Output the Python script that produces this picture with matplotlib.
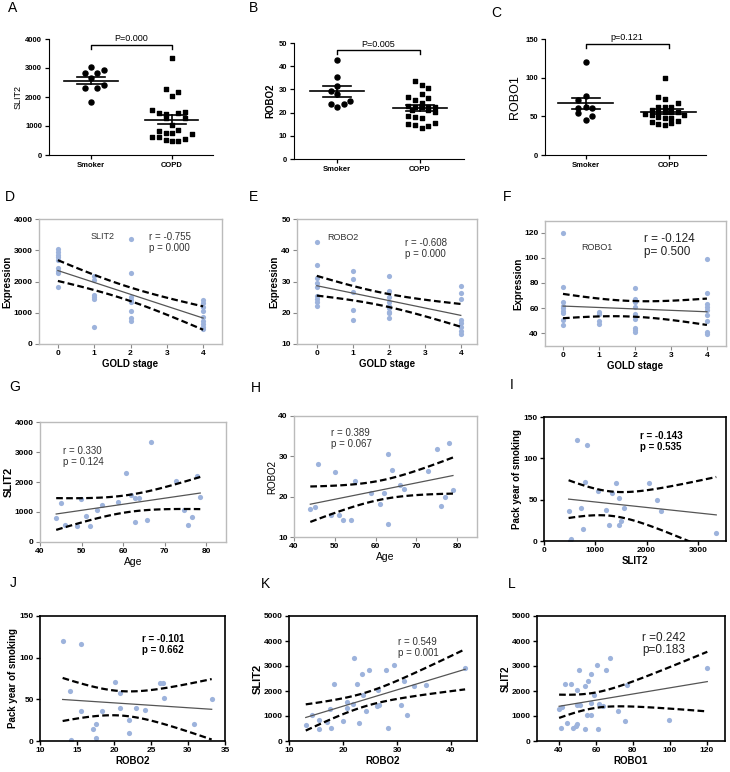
import numpy as np
import matplotlib
matplotlib.use('Agg')
import matplotlib.pyplot as plt

plt.rcParams['font.family'] = ['Liberation Sans', 'DejaVu Sans']

W, H = 730, 772
DOT = '#9db3dc'

# ---- group comparisons (A-C); dx = horizontal spread of each point in the column ----
slit2_smoker = [3023, 2830, 2828, 2931, 2667, 2299, 2299, 2414, 1816]
slit2_smoker_dx = [0, -0.08, 0.07, 0.16, 0, -0.08, 0.07, 0.16, 0]
slit2_copd = [3333, 2264, 2184, 2034, 1552, 1460, 1402, 1460, 1494, 1264, 1264, 1034,
              828, 862, 747, 747, 632, 724, 517, 494, 494, 540, 632]
slit2_copd_dx = [0, -0.07, 0.08, 0, -0.24, -0.16, -0.07, 0.08, 0.16, -0.07, 0.16, 0,
                 -0.16, 0.08, -0.07, 0, -0.16, 0.25, -0.07, 0, 0.08, 0.16, -0.24]
robo2_smoker = [42.6, 35.5, 31.4, 29.4, 28.0, 25.0, 23.9, 23.6, 22.5]
robo2_smoker_dx = [0, 0, 0, -0.07, 0, 0.16, -0.07, 0.08, 0]
robo2_copd = [33.5, 31.8, 30.8, 28.2, 26.8, 26.5, 25.4, 24.2, 22.8, 22.5, 22.2, 22.2, 22.2,
              21.1, 21.0, 20.3, 18.5, 17.9, 17.5, 15.3, 15.6, 14.5, 14.2, 13.2]
robo2_copd_dx = [-0.06, 0.02, 0.10, 0.02, -0.14, 0.10, -0.06, 0.02, -0.14, -0.06, 0.02,
                 0.10, 0.18, -0.10, 0.10, 0.18, -0.14, -0.06, 0.02, -0.14, 0.18, -0.06,
                 0.10, 0.02]
robo1_smoker = [120, 76.7, 71, 60.3, 61.6, 60.3, 53.9, 50.4, 45.3]
robo1_smoker_dx = [0, 0, -0.09, -0.09, 0, 0.08, -0.09, 0.08, 0]
robo1_copd = [99, 75.4, 72, 66.8, 62.5, 62.5, 62.5, 58, 56, 56, 56, 56, 53, 51.7, 51.7,
              48.7, 47.4, 47.4, 44.4, 43, 40, 38.8, 40.9]
robo1_copd_dx = [-0.05, -0.13, -0.05, 0.11, -0.13, -0.05, 0.03, -0.2, -0.13, -0.05, 0.03,
                 0.11, -0.28, -0.2, 0.19, -0.13, 0.03, -0.05, 0.11, -0.2, -0.13, -0.05,
                 0.03]

# ---- GOLD stage (D-F) ----
gold_slit2 = [0]*9 + [1]*6 + [2]*8 + [4]*9
val_slit2 = [3040, 2950, 2860, 2790, 2690, 2420, 2350, 2260, 1810,
             2180, 2050, 1570, 1490, 1440, 530,
             3350, 2280, 1520, 1410, 1330, 1060, 820, 750,
             1410, 1300, 1200, 1060, 850, 750, 640, 530, 470]
gold_robo2 = [0]*9 + [1]*5 + [2]*9 + [4]*8
val_robo2 = [42.7, 35.4, 31.2, 29.4, 28.1, 25.4, 24.3, 23.5, 22.2,
             33.4, 30.8, 26.5, 20.9, 17.7,
             31.8, 27.1, 25.0, 23.3, 22.3, 21.5, 20.4, 19.9, 18.3,
             28.6, 26.3, 24.3, 17.7, 16.8, 15.5, 14.2, 13.2]
gold_robo1 = [0]*9 + [1]*4 + [2]*9 + [4]*9
val_robo1 = [120, 76.6, 65.2, 62, 59.9, 57.7, 55.9, 50.6, 46.1,
             57.2, 55.1, 50.0, 47.4,
             75.8, 67.4, 65.2, 60.7, 55.4, 51.4, 44.0, 42.1, 40.5,
             98.8, 71.8, 63.3, 60.7, 58.5, 54.6, 49.3, 40.5, 39.5]

# ---- age (G, H) ----
age_g = [43.9, 45, 46, 49, 49.9, 51, 52, 53.8, 55, 58.8, 60.8, 61.9, 62.9, 63.8, 62.8,
         65.8, 66.7, 72.8, 74.6, 75.7, 76.7, 77.7, 78.6]
slit2_g = [795, 1293, 575, 519, 1436, 873, 519, 1072, 1227, 1337, 2287, 1580, 1481, 1481,
           663, 740, 3348, 2044, 1072, 552, 829, 2199, 1514]
age_h = [44, 45.1, 46, 50, 51, 49, 52, 54, 55, 59, 61, 62, 63, 63, 64, 66, 67, 73, 75,
         76, 77, 78, 79]
robo2_h = [17.05, 17.5, 28.2, 26.1, 15.5, 15.4, 14.1, 14.1, 24.0, 20.8, 18.3, 20.8, 30.7,
           13.1, 26.7, 22.8, 22.0, 26.4, 31.7, 17.6, 19.9, 33.2, 21.7]

# ---- pack years (I, J) ----
slit2_i = [480, 510, 530, 640, 724, 848, 802, 770, 1050, 1324, 1207, 1272, 1409, 1455,
           1455, 1507, 1566, 2042, 2198, 2277, 3360]
pack_i = [35.9, 0.5, 2.8, 121.8, 40, 116, 71, 15, 60, 58, 37, 19.4, 70.2, 52, 19.4, 24,
          40, 70, 50, 36, 10]
robo2_j = [13.06, 15.5, 14.1, 14.2, 15.5, 17.1, 17.6, 17.6, 18.4, 20.1, 20.8, 20.8, 21.96,
           22.05, 23.0, 24.2, 26.2, 26.6, 26.8, 30.8, 33.2]
pack_j = [120, 116, 60, 0.8, 36, 14.8, 20, 3.2, 36, 70.8, 58, 40, 24.8, 10, 40, 37.2, 70,
          70, 52, 20, 50]

# ---- SLIT2 vs receptors (K, L) ----
robo2_k = [13.1, 14.2, 15.6, 15.6, 17.1, 17.6, 17.7, 18.4, 20.0, 20.8, 20.8, 21.9, 22.0,
           22.5, 23.0, 23.5, 23.7, 24.2, 24.9, 26.3, 26.5, 26.7, 27.9, 28.3, 29.4, 30.8,
           31.2, 31.8, 33.2, 35.4, 42.6]
slit2_k = [627, 1053, 853, 480, 760, 1267, 533, 2267, 800, 1560, 1320, 1493, 3333, 2293,
           720, 2693, 1827, 1200, 2853, 1400, 2027, 1453, 2827, 533, 3027, 1453, 2400,
           1027, 2187, 2253, 2907]
robo1_l = [40, 41.3, 41.1, 43, 44.4, 46.2, 47.8, 49.1, 49.5, 49.6, 49.8, 50.9, 51.5, 54,
           54.2, 54.9, 55.8, 57.1, 57.3, 57.3, 59.1, 60.7, 61.3, 61.5, 63.6, 65.5, 67.6,
           72.2, 76, 77.1, 99.5, 120.4]
slit2_l = [1293, 1360, 533, 2267, 720, 2293, 533, 587, 2053, 1453, 693, 2853, 1453, 2187,
           493, 1040, 2400, 1040, 1520, 2667, 1827, 3027, 480, 1493, 1387, 2827, 3333,
           1200, 800, 2227, 853, 2907]


def rect(l, t, r, b):
    return [l / W, 1 - b / H, (r - l) / W, (b - t) / H]


def fit_lines(ax, x, y, t=2.04):
    x = np.asarray(x, float)
    y = np.asarray(y, float)
    slope, icpt = np.polyfit(x, y, 1)
    n = len(x)
    res = y - (icpt + slope * x)
    s = np.sqrt((res ** 2).sum() / (n - 2))
    xs = np.linspace(x.min(), x.max(), 100)
    ys = icpt + slope * xs
    se = s * np.sqrt(1.0 / n + (xs - x.mean()) ** 2 / ((x - x.mean()) ** 2).sum())
    ax.plot(xs, ys, color='#555555', lw=0.9, zorder=3)
    ax.plot(xs, ys + t * se, color='k', lw=1.6, ls=(0, (3, 1.5)), zorder=3)
    ax.plot(xs, ys - t * se, color='k', lw=1.6, ls=(0, (3, 1.5)), zorder=3)


def style_gray(ax):
    for sp in ax.spines.values():
        sp.set_color('#bbbbbb')
        sp.set_linewidth(1.0)
    ax.tick_params(direction='out', length=3, width=0.8, color='#888888',
                   labelsize=6, pad=1.5)
    for lab in ax.get_xticklabels() + ax.get_yticklabels():
        lab.set_fontweight('bold')


def style_black(ax):
    for sp in ax.spines.values():
        sp.set_color('k')
        sp.set_linewidth(1.2)
    ax.tick_params(direction='out', length=3, width=1.0, labelsize=6, pad=1.5)
    for lab in ax.get_xticklabels() + ax.get_yticklabels():
        lab.set_fontweight('bold')


def group_panel(ax, a, adx, b, bdx, ylim, yticks, bar_y, ptxt, ylab, ylab_kw):
    ax.scatter(np.asarray(adx), a, marker='o', s=13, color='k', zorder=3)
    ax.scatter(1 + np.asarray(bdx), b, marker='s', s=11, color='k', zorder=3)
    for i, v in enumerate([a, b]):
        v = np.asarray(v, float)
        m = v.mean()
        sem = v.std(ddof=1) / np.sqrt(len(v))
        ax.plot([i - 0.33, i + 0.33], [m, m], color='k', lw=1.2, zorder=4)
        ax.plot([i - 0.17, i + 0.17], [m + sem, m + sem], color='k', lw=1.2, zorder=4)
        ax.plot([i - 0.17, i + 0.17], [m - sem, m - sem], color='k', lw=1.2, zorder=4)
        ax.plot([i, i], [m - sem, m + sem], color='k', lw=1.2, zorder=4)
    tick = (ylim[1] - ylim[0]) * 0.035
    ax.plot([0, 0, 1, 1], [bar_y - tick, bar_y, bar_y, bar_y - tick], color='k', lw=1.0)
    ax.text(0.5, bar_y + tick * 0.4, ptxt, ha='center', va='bottom', fontsize=6.5)
    ax.set_ylim(*ylim)
    ax.set_yticks(yticks)
    ax.set_xticks([0, 1])
    ax.set_xticklabels(['Smoker', 'COPD'], fontweight='bold', fontsize=6.5)
    ax.spines['top'].set_visible(False)
    ax.spines['right'].set_visible(False)
    ax.tick_params(direction='out', length=3, width=0.9, labelsize=5.5, pad=2)
    for lab in ax.get_yticklabels():
        lab.set_fontweight('bold')
    ax.set_ylabel(ylab, **ylab_kw)


fig = plt.figure(figsize=(W / 100, H / 100), dpi=100)

# A
ax = fig.add_axes(rect(49, 39, 213, 155))
ax.set_xlim(-0.52, 1.51)
group_panel(ax, slit2_smoker, slit2_smoker_dx, slit2_copd, slit2_copd_dx, (0, 4000),
            [0, 1000, 2000, 3000, 4000], 3790, 'P=0.000', 'SLIT2',
            dict(fontsize=6.5, labelpad=2))
# B
ax = fig.add_axes(rect(294, 43, 464, 159))
ax.set_xlim(-0.52, 1.53)
group_panel(ax, robo2_smoker, robo2_smoker_dx, robo2_copd, robo2_copd_dx, (0, 50),
            [0, 10, 20, 30, 40, 50], 46.8, 'P=0.005', 'ROBO2',
            dict(fontsize=7, fontweight='bold', labelpad=2))
# C
ax = fig.add_axes(rect(545, 39, 706, 155))
ax.set_xlim(-0.49, 1.45)
group_panel(ax, robo1_smoker, robo1_smoker_dx, robo1_copd, robo1_copd_dx, (0, 150),
            [0, 50, 100, 150], 143.5, 'p=0.121', 'ROBO1', dict(fontsize=9, labelpad=3))

# D
ax = fig.add_axes(rect(39, 219, 222, 344))
ax.scatter(gold_slit2, val_slit2, s=14, color=DOT, zorder=2, linewidths=0)
fit_lines(ax, gold_slit2, val_slit2)
ax.set_xlim(-0.52, 4.52)
ax.set_ylim(0, 4000)
ax.set_xticks([0, 1, 2, 3, 4])
ax.set_yticks([0, 1000, 2000, 3000, 4000])
style_gray(ax)
ax.set_xlabel('GOLD stage', fontsize=7, fontweight='bold', labelpad=1)
ax.set_ylabel('Expression', fontsize=7, fontweight='bold', labelpad=1)
ax.text(0.9, 3450, 'SLIT2', fontsize=6.5, color='#333333', va='center')
ax.text(2.5, 3250, 'r = -0.755\np = 0.000', fontsize=7, color='#333333', va='center',
        linespacing=1.1)

# E
ax = fig.add_axes(rect(297, 219, 477, 344))
ax.scatter(gold_robo2, val_robo2, s=14, color=DOT, zorder=2, linewidths=0)
fit_lines(ax, gold_robo2, val_robo2)
ax.set_xlim(-0.55, 4.45)
ax.set_ylim(10, 50)
ax.set_xticks([0, 1, 2, 3, 4])
ax.set_yticks([10, 20, 30, 40, 50])
style_gray(ax)
ax.set_xlabel('GOLD stage', fontsize=7, fontweight='bold', labelpad=1)
ax.set_ylabel('Expression', fontsize=7, fontweight='bold', labelpad=1)
ax.text(0.3, 44, 'ROBO2', fontsize=6.5, color='#333333', va='center')
ax.text(2.45, 40.5, 'r = -0.608\np = 0.000', fontsize=7, color='#333333', va='center',
        linespacing=1.1)

# F
ax = fig.add_axes(rect(545, 221, 726, 346))
ax.scatter(gold_robo1, val_robo1, s=14, color=DOT, zorder=2, linewidths=0)
fit_lines(ax, gold_robo1, val_robo1)
ax.set_xlim(-0.5, 4.53)
ax.set_ylim(29.7, 129.5)
ax.set_xticks([0, 1, 2, 3, 4])
ax.set_yticks([40, 60, 80, 100, 120])
style_gray(ax)
ax.set_xlabel('GOLD stage', fontsize=7, fontweight='bold', labelpad=1)
ax.set_ylabel('Expression', fontsize=7, fontweight='bold', labelpad=1)
ax.text(0.5, 108, 'ROBO1', fontsize=6.5, color='#333333', va='center')
ax.text(2.25, 110, 'r = -0.124\np= 0.500', fontsize=8.5, color='#222222', va='center',
        linespacing=1.1)

# G
ax = fig.add_axes(rect(40, 422, 226, 542))
ax.scatter(age_g, slit2_g, s=14, color=DOT, zorder=2, linewidths=0)
fit_lines(ax, age_g, slit2_g)
ax.set_xlim(40, 84.8)
ax.set_ylim(0, 4000)
ax.set_xticks([40, 50, 60, 70, 80])
ax.set_yticks([0, 1000, 2000, 3000, 4000])
style_gray(ax)
ax.set_xlabel('Age', fontsize=7.5, labelpad=1)
ax.set_ylabel('SLIT2', fontsize=8, fontweight='bold', labelpad=1)
ax.text(45.5, 2850, 'r = 0.330\np = 0.124', fontsize=7, color='#333333', va='center',
        linespacing=1.1)

# H
ax = fig.add_axes(rect(294, 416, 477, 537))
ax.scatter(age_h, robo2_h, s=14, color=DOT, zorder=2, linewidths=0)
fit_lines(ax, age_h, robo2_h)
ax.set_xlim(40, 84.9)
ax.set_ylim(10, 40)
ax.set_xticks([40, 50, 60, 70, 80])
ax.set_yticks([10, 20, 30, 40])
style_gray(ax)
ax.set_xlabel('Age', fontsize=7.5, labelpad=1)
ax.set_ylabel('ROBO2', fontsize=7, labelpad=1)
ax.text(49, 34.5, 'r = 0.389\np = 0.067', fontsize=7, color='#333333', va='center',
        linespacing=1.1)

# I
ax = fig.add_axes(rect(544, 417, 726, 541))
ax.scatter(slit2_i, pack_i, s=14, color=DOT, zorder=2, linewidths=0)
fit_lines(ax, slit2_i, pack_i)
ax.set_xlim(0, 3550)
ax.set_ylim(0, 150)
ax.set_xticks([0, 1000, 2000, 3000])
ax.set_yticks([0, 50, 100, 150])
style_black(ax)
ax.set_xlabel('SLIT2', fontsize=7, fontweight='bold', labelpad=1)
ax.set_ylabel('Pack year of smoking', fontsize=7, fontweight='bold', labelpad=1)
ax.text(1875, 120, 'r = -0.143\np = 0.535', fontsize=7, fontweight='bold', va='center',
        linespacing=1.1)

# J
ax = fig.add_axes(rect(40, 616, 225, 741))
ax.scatter(robo2_j, pack_j, s=14, color=DOT, zorder=2, linewidths=0)
fit_lines(ax, robo2_j, pack_j)
ax.set_xlim(10, 35)
ax.set_ylim(0, 150)
ax.set_xticks([10, 15, 20, 25, 30, 35])
ax.set_yticks([0, 50, 100, 150])
style_black(ax)
ax.set_xlabel('ROBO2', fontsize=7, fontweight='bold', labelpad=1)
ax.set_ylabel('Pack year of smoking', fontsize=7, fontweight='bold', labelpad=1)
ax.text(23.8, 116, 'r = -0.101\np = 0.662', fontsize=7, fontweight='bold', va='center',
        linespacing=1.1)

# K
ax = fig.add_axes(rect(289, 616, 477, 741))
ax.scatter(robo2_k, slit2_k, s=14, color=DOT, zorder=2, linewidths=0)
fit_lines(ax, robo2_k, slit2_k)
ax.set_xlim(10, 44.8)
ax.set_ylim(0, 5000)
ax.set_xticks([10, 20, 30, 40])
ax.set_yticks([0, 1000, 2000, 3000, 4000, 5000])
style_black(ax)
ax.set_xlabel('ROBO2', fontsize=7, fontweight='bold', labelpad=1)
ax.set_ylabel('SLIT2', fontsize=8, fontweight='bold', labelpad=1)
ax.text(30.2, 3730, 'r = 0.549\np = 0.001', fontsize=7, color='#333333', va='center',
        linespacing=1.1)

# L
ax = fig.add_axes(rect(537, 616, 725, 741))
ax.scatter(robo1_l, slit2_l, s=14, color=DOT, zorder=2, linewidths=0)
fit_lines(ax, robo1_l, slit2_l)
ax.set_xlim(28, 130)
ax.set_ylim(0, 5000)
ax.set_xticks([40, 60, 80, 100, 120])
ax.set_yticks([0, 1000, 2000, 3000, 4000, 5000])
style_black(ax)
ax.set_xlabel('ROBO1', fontsize=7, fontweight='bold', labelpad=1)
ax.set_ylabel('SLIT2', fontsize=7, fontweight='bold', labelpad=1)
ax.text(85, 3880, 'r =0.242\np=0.183', fontsize=8.5, color='#222222', va='center',
        linespacing=1.1)

# panel letters
letters = ['A', 'B', 'C', 'D', 'E', 'F', 'G', 'H', 'I', 'J', 'K', 'L']
lx = [13, 253, 496, 10, 253, 507, 15, 256, 512, 13, 265, 512]
ly = [8, 8, 13, 197, 197, 197, 387, 388, 385, 583, 584, 584]
for s, x, y in zip(letters, lx, ly):
    fig.text(x / W, 1 - y / H, s, fontsize=10, ha='center', va='center')

fig.savefig('out.png', dpi=100)
